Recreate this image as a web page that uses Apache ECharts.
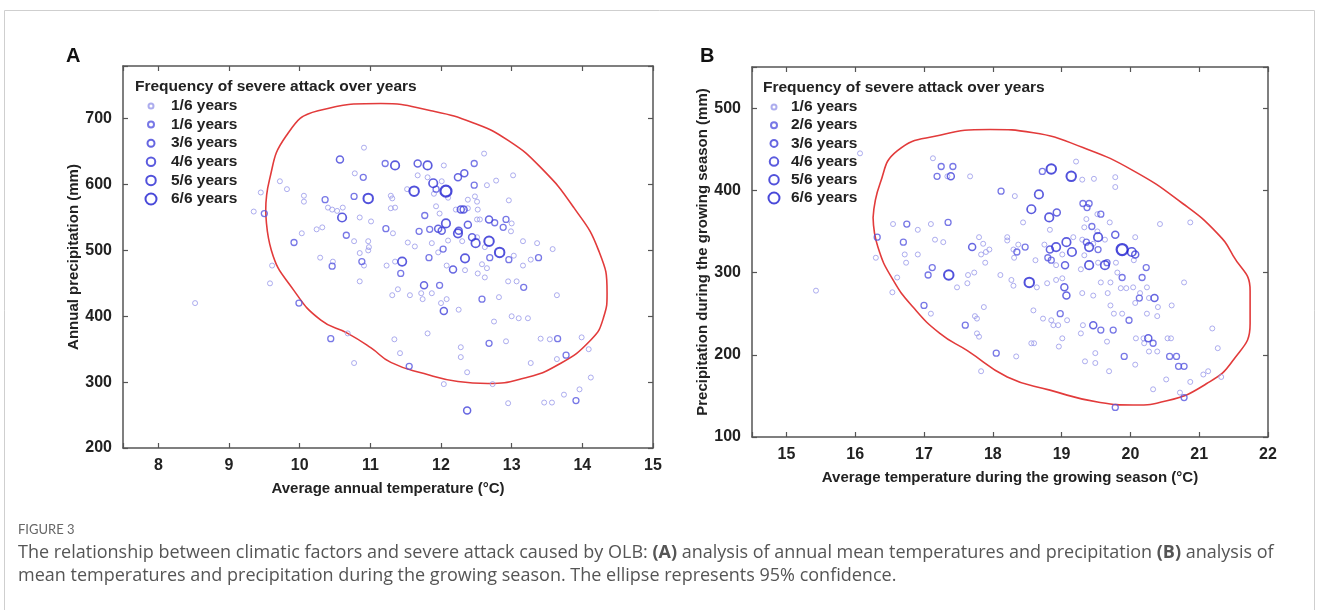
<!DOCTYPE html>
<html>
<head>
<meta charset="utf-8">
<script src="https://cdn.jsdelivr.net/npm/echarts@6/dist/echarts.min.js"></script>
<style>
  html, body { margin: 0; padding: 0; background: #fff; }
  #chart { width: 1320px; height: 610px; }
</style>
</head>
<body>
<div id="chart"></div>
<script>
// Panel A: annual temperature (°C) vs annual precipitation (mm), one array per frequency class
const a1 = [[10.91,656],[12.04,629],[12.61,647],[10.78,617],[11.67,614],[11.81,611],[13.02,614],[12.78,606],[12.65,599],[12.01,605],
  [11.52,593],[9.72,605],[9.82,593],[9.45,588],[10.06,583],[10.06,574],[11.29,583],[11.31,579],[11.90,586],[12.10,580],
  [12.48,582],[12.38,577],[12.51,574],[12.96,576],[9.35,559],[10.40,565],[10.46,562],[10.53,560],[10.61,565],[10.85,550],
  [11.01,544],[11.29,564],[11.35,565],[11.93,567],[11.98,556],[12.21,562],[12.38,564],[12.52,562],[12.51,547],[12.55,547],
  [13.00,541],[12.99,529],[10.24,532],[10.32,535],[11.32,526],[10.29,489],[10.97,514],[10.77,514],[10.98,505],[10.97,500],
  [10.85,496],[10.91,477],[11.23,477],[11.35,483],[11.53,512],[11.63,506],[11.96,497],[11.87,511],[12.10,515],[12.30,514],
  [12.51,520],[12.62,505],[13.03,492],[13.16,514],[13.36,511],[13.27,486],[13.16,477],[12.58,479],[12.65,473],[12.34,470],
  [12.52,465],[12.62,459],[12.08,477],[12.95,453],[13.07,453],[10.85,453],[11.31,432],[11.39,441],[11.56,432],[11.72,435],
  [11.74,426],[11.87,435],[12.00,420],[12.08,426],[12.25,410],[12.82,429],[13.00,400],[13.10,397],[13.23,397],[12.75,392],
  [11.81,374],[13.41,366],[13.54,365],[13.58,502],[13.64,432],[12.28,353],[12.28,338],[12.92,362],[13.99,368],[14.09,350],
  [11.42,344],[12.37,315],[13.27,329],[13.64,335],[14.12,307],[12.04,297],[12.73,297],[12.95,268],[13.46,269],[13.57,269],
  [13.74,281],[13.96,289],[8.52,420],[9.61,477],[9.58,450],[10.47,483],[10.68,374],[10.77,329],[11.34,365],[10.03,526]];
const a2 = [[11.21,632],[12.47,632],[10.90,611],[12.47,599],[11.93,593],[10.36,577],[10.77,582],[9.50,556],[11.77,553],[12.76,542],
  [12.92,547],[12.88,535],[10.66,523],[11.22,533],[11.69,529],[11.84,532],[12.03,502],[11.83,489],[11.43,465],[10.88,483],
  [10.46,476],[12.69,489],[12.96,486],[13.38,489],[13.17,444],[11.98,447],[12.58,426],[10.44,366],[12.68,359],[13.65,366],
  [11.55,324],[13.77,341],[13.91,272],[9.99,420],[9.92,512]];
const a3 = [[10.57,638],[11.67,632],[12.24,611],[12.33,617],[12.28,562],[12.32,562],[12.38,539],[12.68,547],[11.96,533],[12.01,530],
  [12.25,530],[12.44,520],[12.17,471],[11.76,447],[12.04,408],[12.37,257]];
const a4 = [[11.35,629],[11.81,629],[11.89,602],[10.60,550],[12.07,541],[12.24,526],[12.49,511],[12.34,488],[11.45,483]];
const a5 = [[11.62,590],[10.97,579],[12.68,514],[12.83,497]];
const a6 = [[12.07,590]];

// Panel B: growing-season temperature (°C) vs growing-season precipitation (mm)
const b1 = [[16.07,445],[17.13,439],[17.34,417],[17.67,417],[18.32,393],[19.21,435],[19.30,413],[19.47,414],[19.78,416],[19.78,404],
  [18.44,361],[19.52,371],[19.36,365],[19.70,361],[19.33,355],[19.52,350],[18.83,352],[16.55,359],[16.91,352],[17.10,359],
  [17.16,340],[17.28,337],[16.30,318],[16.72,322],[16.91,322],[16.74,312],[17.48,282],[17.80,343],[17.86,335],[17.83,322],
  [17.90,325],[17.95,328],[17.89,312],[17.64,297],[17.63,287],[17.73,300],[18.21,343],[18.21,339],[18.37,334],[18.30,328],
  [18.31,318],[18.11,297],[18.27,291],[18.30,284],[18.64,282],[18.62,315],[18.75,334],[18.92,309],[19.01,322],[19.17,343],
  [19.30,340],[19.46,335],[19.33,321],[19.28,304],[19.53,312],[19.79,312],[19.81,300],[19.86,281],[18.92,291],[19.01,293],
  [19.30,275],[19.46,272],[19.57,288],[19.67,275],[20.04,282],[19.71,288],[19.94,281],[20.14,275],[19.71,260],[19.76,250],
  [19.88,250],[18.59,254],[18.73,244],[18.85,242],[18.88,236],[18.95,236],[19.08,242],[19.01,220],[18.96,210],[19.31,236],
  [19.28,226],[19.66,216],[18.56,214],[18.60,214],[17.87,258],[17.74,247],[17.77,244],[17.77,226],[17.80,222],[17.10,250],
  [16.54,276],[16.61,294],[15.43,278],[18.34,198],[17.83,180],[20.43,359],[20.87,361],[20.07,343],[19.63,340],[20.05,315],
  [18.79,287],[20.07,263],[20.24,282],[20.27,269],[20.40,258],[20.39,247],[20.24,250],[20.78,288],[20.60,260],[20.08,220],
  [20.19,220],[20.20,214],[20.27,204],[20.39,204],[20.07,188],[19.49,202],[19.49,190],[19.34,192],[19.69,180],[20.54,220],
  [20.59,220],[21.19,232],[21.27,208],[21.06,176],[21.13,180],[21.32,173],[20.87,167],[20.52,170],[20.33,158],[20.72,154]];
const b2 = [[17.25,429],[17.42,429],[17.19,417],[18.12,399],[18.72,423],[19.31,384],[19.40,384],[19.37,379],[19.57,371],[19.44,356],
  [16.75,359],[17.35,361],[16.32,343],[16.70,337],[17.12,306],[17.06,297],[18.35,325],[18.47,331],[18.80,318],[18.85,315],
  [19.36,337],[19.53,328],[19.66,312],[19.88,294],[19.98,242],[18.98,250],[19.57,230],[19.75,230],[17.60,236],[17.00,260],
  [18.05,202],[20.23,306],[20.17,294],[20.13,269],[20.33,214],[19.91,198],[20.57,198],[20.67,198],[20.70,186],[20.78,186],
  [20.78,148],[19.78,136]];
const b3 = [[17.39,417],[18.93,373],[19.78,346],[17.70,331],[18.83,328],[19.05,309],[19.04,282],[19.07,272],[19.46,236],[20.07,322],
  [20.35,269],[20.26,220]];
const b4 = [[18.67,395],[18.56,377],[18.82,367],[19.53,343],[18.92,331],[19.07,337],[19.15,325],[19.40,331],[19.40,309],[19.63,309],
  [20.02,325]];
const b5 = [[18.85,426],[19.14,417],[17.36,297],[18.53,288]];
const b6 = [[19.88,328]];

// 95% confidence ellipses
const ellipseA = [[9.52,561],[9.57,606],[9.81,674],[10.26,712],[11.15,723],[11.86,712],[12.47,693],[12.95,667],[13.41,626],[13.88,565],
  [14.23,500],[14.35,435],[14.30,398],[14.12,364],[13.65,326],[13.17,306],[12.66,298],[12.24,301],[11.76,313],[11.29,330],
  [11.01,352],[10.68,374],[10.30,394],[9.92,439],[9.60,500],[9.52,561]];
const ellipseB = [[16.26,367],[16.36,408],[16.61,448],[17.23,467],[17.96,474],[18.59,470],[19.31,452],[20.04,424],[20.76,384],[21.26,348],
  [21.49,321],[21.74,278],[21.74,238],[21.49,193],[21.11,165],[20.53,144],[20.04,139],[19.56,142],[18.83,157],[18.21,173],
  [17.63,205],[17.23,226],[16.84,258],[16.55,291],[16.33,331],[16.26,367]];

const labelsA = ['1/6 years', '1/6 years', '3/6 years', '4/6 years', '5/6 years', '6/6 years'];
const labelsB = ['1/6 years', '2/6 years', '3/6 years', '4/6 years', '5/6 years', '6/6 years'];

const FONT = '"Liberation Sans", Arial, sans-serif';
const sizes = [5, 6, 7, 8.5, 9.5, 11];
const widths = [1, 1.3, 1.5, 1.7, 2, 2.2];
const colors = ['#9898ea', '#5656e0', '#4040da', '#3232d6', '#2626d2', '#1c1ccf'];

const chart = echarts.init(document.getElementById('chart'));

// names used in the legends
const nameMap = {};
['A', 'B'].forEach((p) => {
  const labels = p === 'A' ? labelsA : labelsB;
  labels.forEach((l, i) => { nameMap[p + (i + 1)] = l; });
});

function scatter(name, data, i, axis) {
  return {
    name: name,
    type: 'scatter',
    xAxisIndex: axis,
    yAxisIndex: axis,
    data: data,
    symbol: 'circle',
    symbolSize: sizes[i],
    itemStyle: { color: 'rgba(0,0,0,0)', borderColor: colors[i], borderWidth: widths[i] },
    z: 3 + i,
  };
}

function xAxes(grid, min, max, name) {
  const common = {
    gridIndex: grid, type: 'value', min: min, max: max, minInterval: 1, maxInterval: 1,
    axisLine: { onZero: false, lineStyle: { color: '#555', width: 1.5 } },
    axisTick: { inside: true, length: 5, lineStyle: { color: '#555', width: 1.2 } },
    splitLine: { show: false },
  };
  return [
    Object.assign({}, common, {
      position: 'bottom',
      axisLabel: { margin: 10, color: '#222', fontFamily: FONT, fontWeight: 'bold', fontSize: 16,
        formatter: (v) => (Number.isInteger(v) ? String(v) : '') },
      name: name, nameLocation: 'middle', nameGap: 33,
      nameTextStyle: { color: '#222', fontFamily: FONT, fontWeight: 'bold', fontSize: 15 },
    }),
    Object.assign({}, common, { position: 'top', axisLabel: { show: false } }),
  ];
}

function yAxes(grid, min, max, name, gap) {
  const common = {
    gridIndex: grid, type: 'value', min: min, max: max, interval: 100,
    axisLine: { onZero: false, lineStyle: { color: '#555', width: 1.5 } },
    axisTick: { inside: true, length: 5, lineStyle: { color: '#555', width: 1.2 } },
    splitLine: { show: false },
  };
  return [
    Object.assign({}, common, {
      position: 'left',
      axisLabel: { margin: 11, color: '#222', fontFamily: FONT, fontWeight: 'bold', fontSize: 16,
        formatter: (v) => (v % 100 === 0 ? String(v) : '') },
      name: name, nameLocation: 'middle', nameGap: gap,
      nameTextStyle: { color: '#222', fontFamily: FONT, fontWeight: 'bold', fontSize: 15 },
    }),
    Object.assign({}, common, { position: 'right', axisLabel: { show: false } }),
  ];
}

// one legend per row so each marker keeps its own size
// [panel, marker centre x, text x, first row y, row step]
const legends = [];
[['A', 150, 170, 106, 18.6], ['B', 773, 790, 107, 18.2]].forEach(([p, cx, tx, top0, step]) => {
  for (let i = 0; i < 6; i++) {
    const s = sizes[i];
    legends.push({
      data: [p + (i + 1)],
      left: cx - s / 2, top: top0 + i * step - 8,
      padding: 0, itemWidth: s, itemHeight: s, icon: 'circle',
      selectedMode: false,
      formatter: (n) => '{t|' + nameMap[n] + '}',
      textStyle: {
        color: '#222', fontFamily: FONT, fontWeight: 'bold', fontSize: 15.5, lineHeight: 16,
        rich: { t: { padding: [0, 0, 0, tx - (cx + s / 2 + 5)], color: '#222', fontFamily: FONT, fontWeight: 'bold', fontSize: 15.5 } },
      },
    });
  }
});

const panelTitle = { color: '#111', fontFamily: FONT, fontWeight: 'bold', fontSize: 20 };
const legendHead = { color: '#222', fontFamily: FONT, fontWeight: 'bold', fontSize: 15.5 };
const captionStyle = { color: '#555', fontFamily: '"Open Sans", Lato, sans-serif', fontSize: 18, fontWeight: 'normal' };

const option = {
  animation: false,
  backgroundColor: '#fff',
  graphic: [{
    type: 'rect', silent: true, z: -10,
    shape: { x: 4.5, y: 10.5, width: 1310, height: 700 },
    style: { fill: 'none', stroke: '#cfcfcf', lineWidth: 1 },
  }],
  title: [
    { text: 'A', left: 66, top: 46, padding: 0, textStyle: panelTitle },
    { text: 'B', left: 700, top: 46, padding: 0, textStyle: panelTitle },
    { text: 'Frequency of severe attack over years', left: 135, top: 79, padding: 0, textStyle: legendHead },
    { text: 'Frequency of severe attack over years', left: 763, top: 80, padding: 0, textStyle: legendHead },
    { text: 'FIGURE 3', left: 18, top: 523, padding: 0,
      textStyle: { color: '#666', fontFamily: 'Lato, sans-serif', fontSize: 13, fontWeight: 'normal' } },
    { text: 'The relationship between climatic factors and severe attack caused by OLB: {b|(A)} analysis of annual mean temperatures and precipitation {b|(B)} analysis of',
      left: 18, top: 544, padding: 0,
      textStyle: Object.assign({}, captionStyle, { rich: { b: { fontWeight: 'bold', color: '#555', fontFamily: '"Open Sans", sans-serif', fontSize: 18 } } }) },
    { text: 'mean temperatures and precipitation during the growing season. The ellipse represents 95% confidence.',
      left: 18, top: 567, padding: 0, textStyle: captionStyle },
  ],
  legend: legends,
  grid: [
    { left: 123, top: 66, width: 530, height: 382 },
    { left: 752, top: 67, width: 516, height: 370 },
  ],
  xAxis: [].concat(
    xAxes(0, 7.5, 15, 'Average annual temperature (°C)'),
    xAxes(1, 14.5, 22, 'Average temperature during the growing season (°C)')
  ),
  yAxis: [].concat(
    yAxes(0, 200, 780, 'Annual precipitation (mm)', 42),
    yAxes(1, 100, 550, 'Precipitation during the growing season (mm)', 41)
  ),
  series: [
    { type: 'line', name: 'ellipseA', data: ellipseA, xAxisIndex: 0, yAxisIndex: 0, smooth: 0.5,
      symbol: 'none', lineStyle: { color: '#e23b3b', width: 1.6 }, silent: true, z: 2 },
    { type: 'line', name: 'ellipseB', data: ellipseB, xAxisIndex: 2, yAxisIndex: 2, smooth: 0.5,
      symbol: 'none', lineStyle: { color: '#e23b3b', width: 1.6 }, silent: true, z: 2 },
    scatter('A1', a1, 0, 0), scatter('A2', a2, 1, 0), scatter('A3', a3, 2, 0),
    scatter('A4', a4, 3, 0), scatter('A5', a5, 4, 0), scatter('A6', a6, 5, 0),
    scatter('B1', b1, 0, 2), scatter('B2', b2, 1, 2), scatter('B3', b3, 2, 2),
    scatter('B4', b4, 3, 2), scatter('B5', b5, 4, 2), scatter('B6', b6, 5, 2),
  ],
};

chart.setOption(option);
</script>
</body>
</html>
